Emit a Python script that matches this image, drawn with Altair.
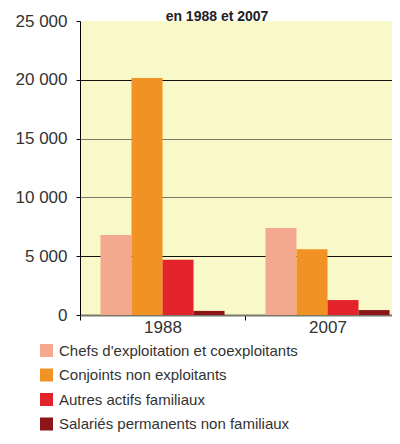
import altair as alt
import pandas as pd

years = ["1988", "2007"]
categories = [
    "Chefs d'exploitation et coexploitants",
    "Conjoints non exploitants",
    "Autres actifs familiaux",
    "Salariés permanents non familiaux",
]
values_1988 = [6800, 20150, 4700, 350]
values_2007 = [7400, 5600, 1270, 420]
colors = ["#f4a98e", "#f09324", "#e3222a", "#8b1518"]
y_ticks = [0, 5000, 10000, 15000, 20000, 25000]
title_text = "en 1988 et 2007"

rows = []
for yr, vals in zip(years, [values_1988, values_2007]):
    for c, v in zip(categories, vals):
        rows.append({"annee": yr, "cat": c, "val": v})
df = pd.DataFrame(rows)

FONT = "Liberation Sans, Arial, Helvetica, sans-serif"

bars = alt.Chart(df).mark_bar().encode(
    x=alt.X(
        "annee:N",
        sort=years,
        scale=alt.Scale(paddingInner=0, paddingOuter=0, range=[0, 330]),
        axis=alt.Axis(
            title=None, labelAngle=0, labelFontSize=17, labelColor="#333333",
            labelFont=FONT, tickBand="extent", tickSize=5, tickColor="black",
            labelPadding=-1, domainColor="#77776a", domainWidth=2,
        ),
    ),
    xOffset=alt.XOffset(
        "cat:N", sort=categories,
        scale=alt.Scale(paddingInner=0, paddingOuter=0.66),
    ),
    y=alt.Y(
        "val:Q",
        scale=alt.Scale(domain=[0, 25000], nice=False),
        axis=alt.Axis(
            title=None, values=y_ticks,
            labelExpr="replace(format(datum.value, ','), ',', ' ')",
            labelFontSize=17, labelColor="#333333", labelFont=FONT,
            tickSize=4, tickColor="black", domainColor="black",
            labelPadding=9, grid=True,
            gridColor={"condition": {"test": "datum.value == 20000 || datum.value == 5000", "value": "#111111"}, "value": "#77776a"},
            gridOpacity={"condition": {"test": "datum.value == 25000", "value": 0}, "value": 1},
        ),
    ),
    color=alt.Color(
        "cat:N", sort=categories,
        scale=alt.Scale(domain=categories, range=colors),
        legend=alt.Legend(
            title=None, orient="none", legendX=-41, legendY=322,
            symbolType="square", symbolSize=169, symbolStrokeWidth=0,
            labelFontSize=15, labelColor="#333333", labelFont=FONT,
            labelOffset=5, rowPadding=8.5, padding=0, labelLimit=400,
        ),
    ),
)

title = alt.Chart(pd.DataFrame({"t": [title_text]})).mark_text(
    fontSize=14, fontWeight="bold", font=FONT, color="#222222",
    baseline="alphabetic", align="center",
).encode(text="t:N", x=alt.value(137), y=alt.value(0))

chart = alt.layer(bars, title).properties(
    width=312, height=294,
    padding={"left": 72, "top": 13, "right": 0, "bottom": 121},
    autosize=alt.AutoSizeParams(type="none"),
    background="white",
).configure_view(fill="#f9f8c8", stroke=None)

chart.save("out.html", embed_options={"renderer": "svg", "actions": False})
